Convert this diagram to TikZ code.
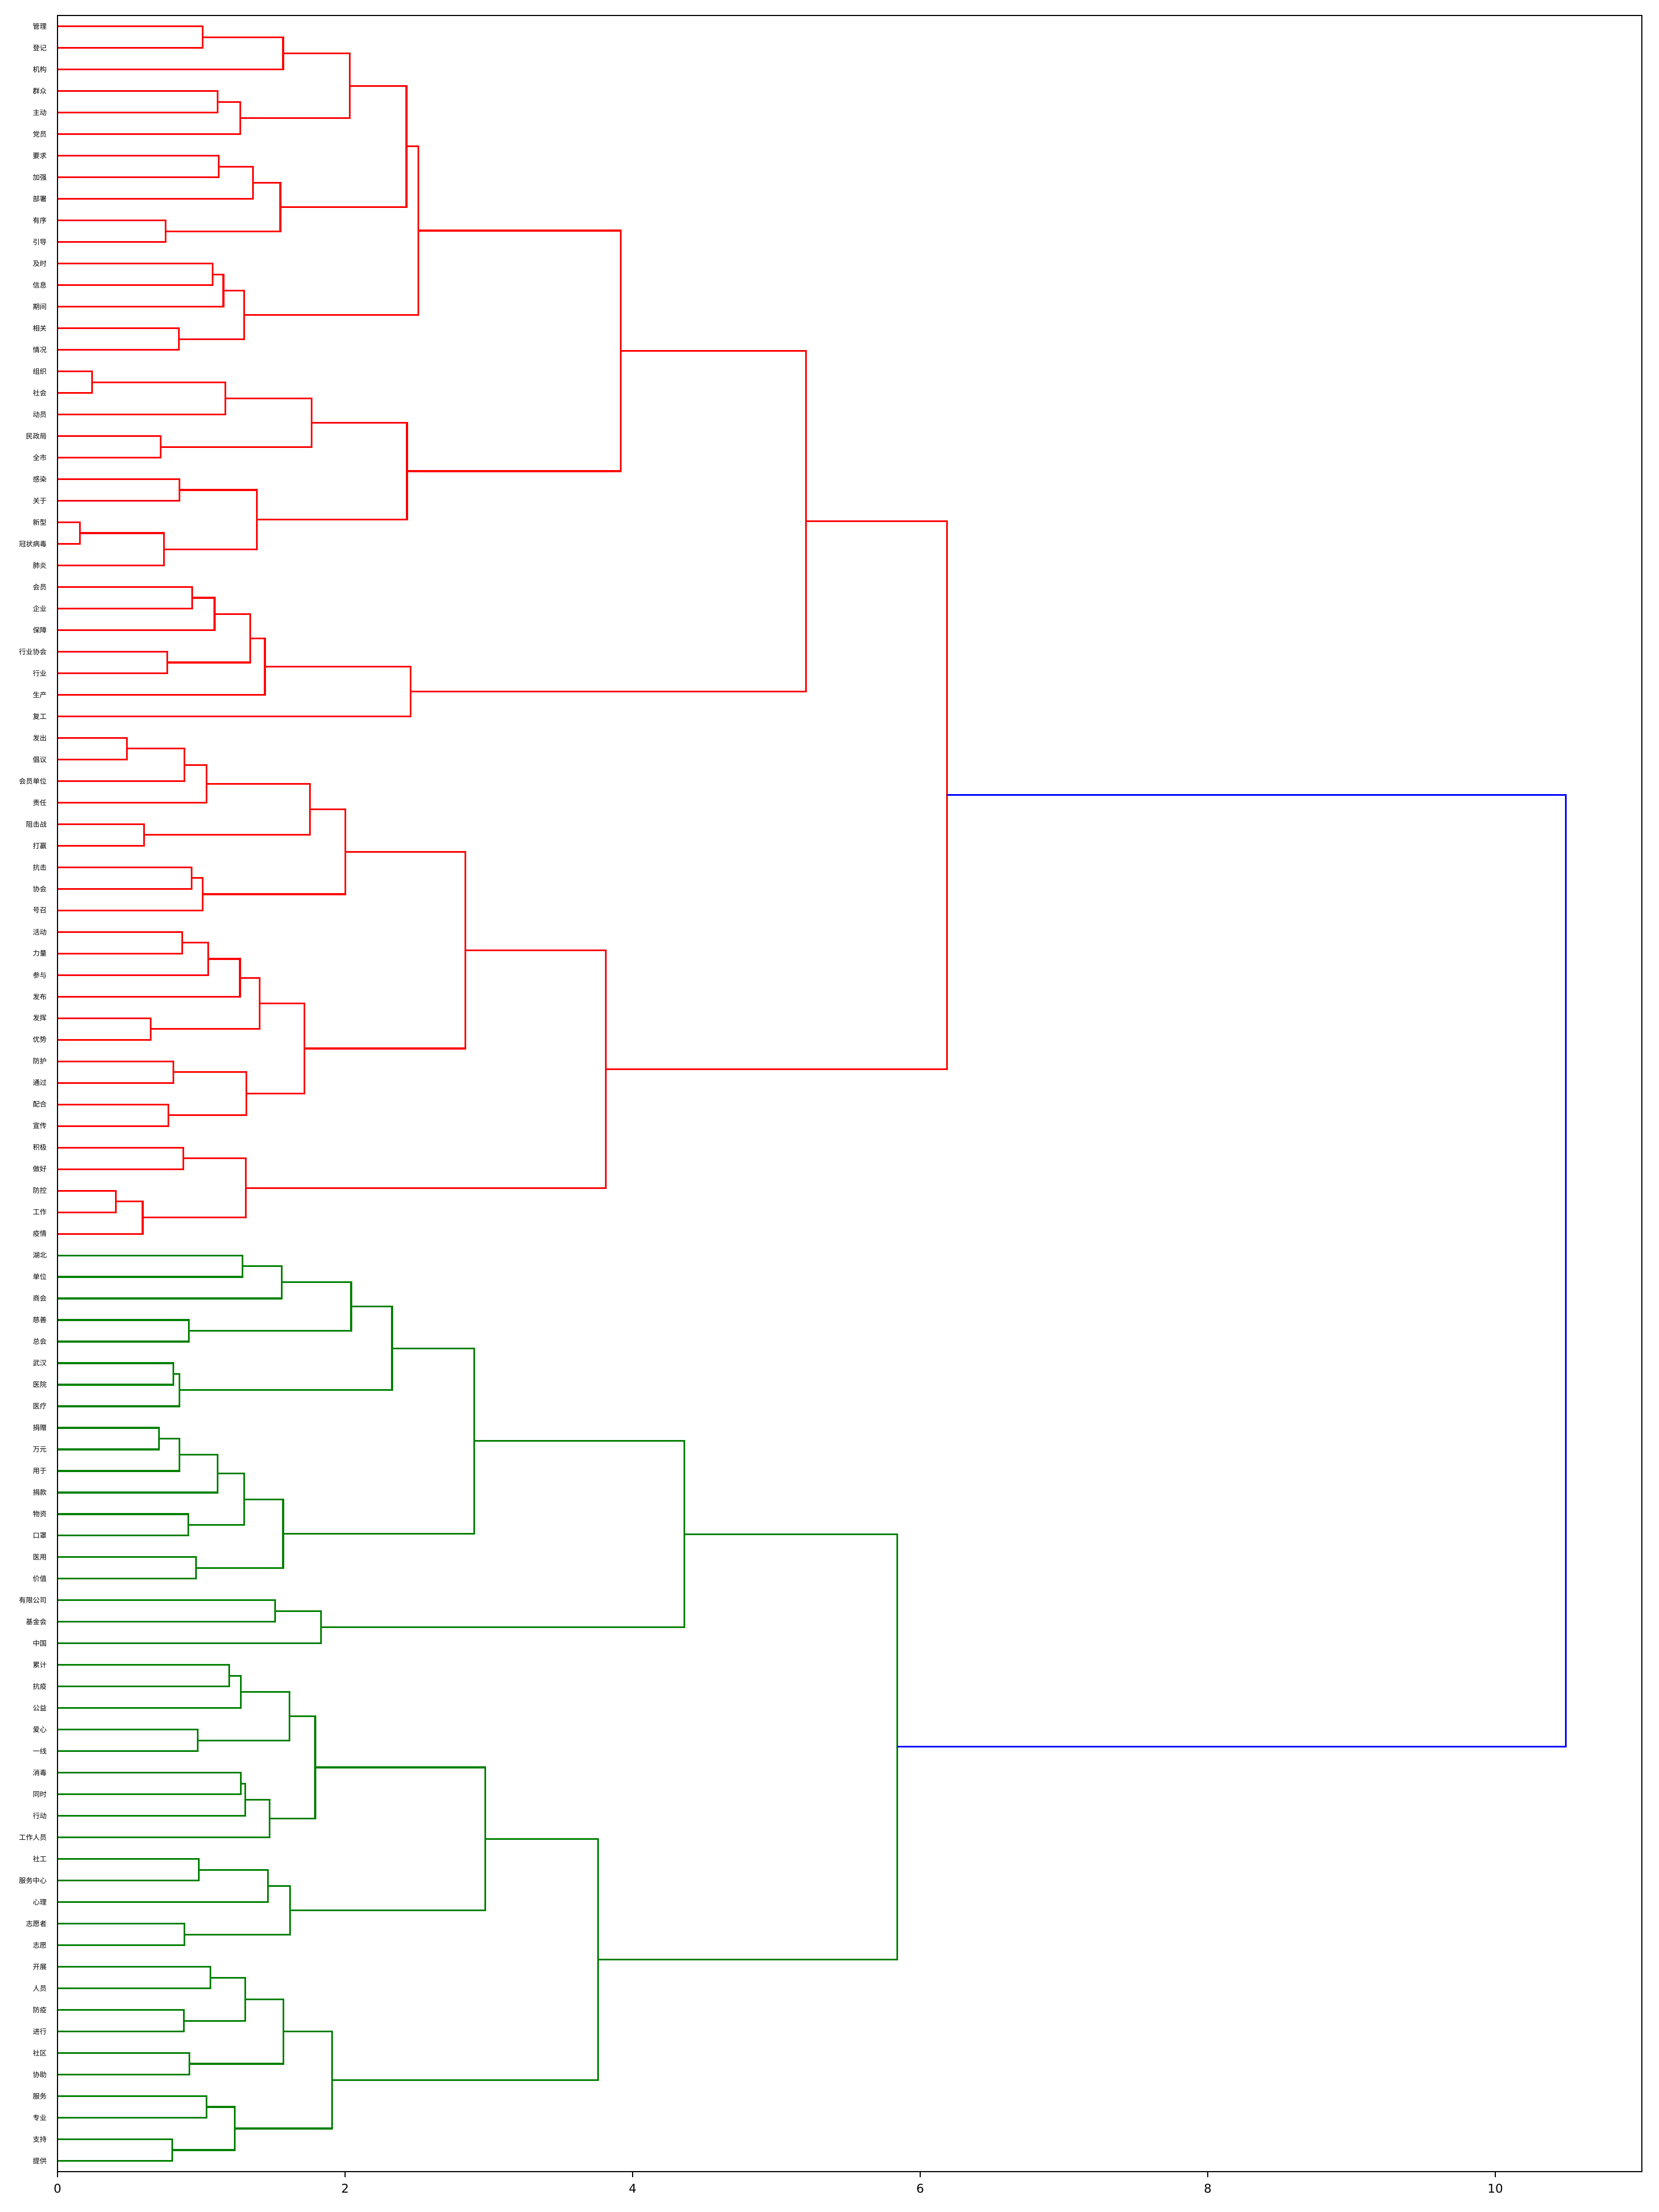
\documentclass[tikz,border=0pt]{standalone}
\usepackage{fontspec}
\setmainfont{DejaVu Sans}
\newfontfamily\cjk{Noto Sans CJK SC}
\usetikzlibrary{calc}

% one U-shaped link: name, upper child, lower child, height, colour
\newcommand\dlink[5]{%
  \coordinate (#1m) at ($(#2)!.5!(#3)$);
  \coordinate (#1) at (#4,0 |- #1m);
  \draw[link,#5] (#2) -| (#1) |- (#3);
}

\begin{document}
\begin{tikzpicture}[
    x=2.6cm, y=0.03898cm,
    leaf/.style = {anchor=east, inner sep=0pt, font=\cjk\fontsize{3.56pt}{4pt}\selectfont},
    link/.style = {line width=0.9pt},
    frame/.style = {line width=0.55pt, black},
    ticklabel/.style = {anchor=base, inner sep=0pt, font=\fontsize{6.2pt}{7pt}\selectfont},
    ]
    \useasboundingbox (-1.04cm,-0.73cm) rectangle (28.96cm,39.27cm);

    % leaves
    \foreach \w [count=\i] in {管理,登记,机构,群众,主动,党员,要求,加强,部署,有序,
        引导,及时,信息,期间,相关,情况,组织,社会,动员,民政局,
        全市,感染,关于,新型,冠状病毒,肺炎,会员,企业,保障,行业协会,
        行业,生产,复工,发出,倡议,会员单位,责任,阻击战,打赢,抗击,
        协会,号召,活动,力量,参与,发布,发挥,优势,防护,通过,
        配合,宣传,积极,做好,防控,工作,疫情,湖北,单位,商会,
        慈善,总会,武汉,医院,医疗,捐赠,万元,用于,捐款,物资,
        口罩,医用,价值,有限公司,基金会,中国,累计,抗疫,公益,爱心,
        一线,消毒,同时,行动,工作人员,社工,服务中心,心理,志愿者,志愿,
        开展,人员,防疫,进行,社区,协助,服务,专业,支持,提供} {
        \coordinate (l\i) at (0,{1005-10*\i});
        \node[leaf] (w\i) at (-0.073,{1005-10*\i}) {\w};
    }

    % red cluster
    \dlink{a1}{l1}{l2}{1.011}{red}
    \dlink{a2}{a1}{l3}{1.569}{red}
    \dlink{a3}{l4}{l5}{1.112}{red}
    \dlink{a4}{a3}{l6}{1.272}{red}
    \dlink{a5}{a2}{a4}{2.032}{red}
    \dlink{a6}{l7}{l8}{1.122}{red}
    \dlink{a7}{a6}{l9}{1.359}{red}
    \dlink{a8}{l10}{l11}{0.753}{red}
    \dlink{a9}{a7}{a8}{1.550}{red}
    \dlink{a10}{a5}{a9}{2.427}{red}
    \dlink{a11}{l12}{l13}{1.080}{red}
    \dlink{a12}{a11}{l14}{1.154}{red}
    \dlink{a13}{l15}{l16}{0.843}{red}
    \dlink{a14}{a12}{a13}{1.297}{red}
    \dlink{a15}{a10}{a14}{2.509}{red}
    \dlink{a16}{l17}{l18}{0.241}{red}
    \dlink{a17}{a16}{l19}{1.168}{red}
    \dlink{a18}{l20}{l21}{0.718}{red}
    \dlink{a19}{a17}{a18}{1.768}{red}
    \dlink{a20}{l22}{l23}{0.847}{red}
    \dlink{a21}{l24}{l25}{0.156}{red}
    \dlink{a22}{a21}{l26}{0.741}{red}
    \dlink{a23}{a20}{a22}{1.385}{red}
    \dlink{a24}{a19}{a23}{2.431}{red}
    \dlink{a25}{a15}{a24}{3.917}{red}
    \dlink{a26}{l27}{l28}{0.937}{red}
    \dlink{a27}{a26}{l29}{1.092}{red}
    \dlink{a28}{l30}{l31}{0.764}{red}
    \dlink{a29}{a27}{a28}{1.341}{red}
    \dlink{a30}{a29}{l32}{1.442}{red}
    \dlink{a31}{a30}{l33}{2.455}{red}
    \dlink{a32}{a25}{a31}{5.207}{red}
    \dlink{a33}{l34}{l35}{0.483}{red}
    \dlink{a34}{a33}{l36}{0.884}{red}
    \dlink{a35}{a34}{l37}{1.037}{red}
    \dlink{a36}{l38}{l39}{0.603}{red}
    \dlink{a37}{a35}{a36}{1.756}{red}
    \dlink{a38}{l40}{l41}{0.932}{red}
    \dlink{a39}{a38}{l42}{1.011}{red}
    \dlink{a40}{a37}{a39}{2.003}{red}
    \dlink{a41}{l43}{l44}{0.866}{red}
    \dlink{a42}{a41}{l45}{1.048}{red}
    \dlink{a43}{a42}{l46}{1.269}{red}
    \dlink{a44}{l47}{l48}{0.647}{red}
    \dlink{a45}{a43}{a44}{1.407}{red}
    \dlink{a46}{l49}{l50}{0.806}{red}
    \dlink{a47}{l51}{l52}{0.771}{red}
    \dlink{a48}{a46}{a47}{1.315}{red}
    \dlink{a49}{a45}{a48}{1.717}{red}
    \dlink{a50}{a40}{a49}{2.838}{red}
    \dlink{a51}{l53}{l54}{0.875}{red}
    \dlink{a52}{l55}{l56}{0.407}{red}
    \dlink{a53}{a52}{l57}{0.592}{red}
    \dlink{a54}{a51}{a53}{1.311}{red}
    \dlink{a55}{a50}{a54}{3.812}{red}
    \dlink{a56}{a32}{a55}{6.185}{red}

    % green cluster
    \dlink{b1}{l58}{l59}{1.288}{green!50!black}
    \dlink{b2}{b1}{l60}{1.560}{green!50!black}
    \dlink{b3}{l61}{l62}{0.914}{green!50!black}
    \dlink{b4}{b2}{b3}{2.042}{green!50!black}
    \dlink{b5}{l63}{l64}{0.806}{green!50!black}
    \dlink{b6}{b5}{l65}{0.847}{green!50!black}
    \dlink{b7}{b4}{b6}{2.327}{green!50!black}
    \dlink{b8}{l66}{l67}{0.707}{green!50!black}
    \dlink{b9}{b8}{l68}{0.847}{green!50!black}
    \dlink{b10}{b9}{l69}{1.112}{green!50!black}
    \dlink{b11}{l70}{l71}{0.910}{green!50!black}
    \dlink{b12}{b10}{b11}{1.299}{green!50!black}
    \dlink{b13}{l72}{l73}{0.965}{green!50!black}
    \dlink{b14}{b12}{b13}{1.569}{green!50!black}
    \dlink{b15}{b7}{b14}{2.897}{green!50!black}
    \dlink{b16}{l74}{l75}{1.514}{green!50!black}
    \dlink{b17}{b16}{l76}{1.834}{green!50!black}
    \dlink{b18}{b15}{b17}{4.359}{green!50!black}
    \dlink{b19}{l77}{l78}{1.193}{green!50!black}
    \dlink{b20}{b19}{l79}{1.274}{green!50!black}
    \dlink{b21}{l80}{l81}{0.976}{green!50!black}
    \dlink{b22}{b20}{b21}{1.615}{green!50!black}
    \dlink{b23}{l82}{l83}{1.274}{green!50!black}
    \dlink{b24}{b23}{l84}{1.306}{green!50!black}
    \dlink{b25}{b24}{l85}{1.475}{green!50!black}
    \dlink{b26}{b22}{b25}{1.792}{green!50!black}
    \dlink{b27}{l86}{l87}{0.983}{green!50!black}
    \dlink{b28}{b27}{l88}{1.463}{green!50!black}
    \dlink{b29}{l89}{l90}{0.882}{green!50!black}
    \dlink{b30}{b28}{b29}{1.618}{green!50!black}
    \dlink{b31}{b26}{b30}{2.975}{green!50!black}
    \dlink{b32}{l91}{l92}{1.064}{green!50!black}
    \dlink{b33}{l93}{l94}{0.878}{green!50!black}
    \dlink{b34}{b32}{b33}{1.306}{green!50!black}
    \dlink{b35}{l95}{l96}{0.917}{green!50!black}
    \dlink{b36}{b34}{b35}{1.571}{green!50!black}
    \dlink{b37}{l97}{l98}{1.037}{green!50!black}
    \dlink{b38}{l99}{l100}{0.799}{green!50!black}
    \dlink{b39}{b37}{b38}{1.233}{green!50!black}
    \dlink{b40}{b36}{b39}{1.910}{green!50!black}
    \dlink{b41}{b31}{b40}{3.760}{green!50!black}
    \dlink{b42}{b18}{b41}{5.840}{green!50!black}

    % root
    \dlink{root}{a56}{b42}{10.49}{blue}

    % axes
    \draw[frame] (0,0) rectangle (11.02,1000);
    \foreach \t in {0,2,4,6,8,10} {
        \draw[frame] (\t,0) -- ++(0,-0.1cm);
        \node[ticklabel] (t\t) at ([yshift=-0.39cm]\t,0) {\t};
    }
\end{tikzpicture}
\end{document}
